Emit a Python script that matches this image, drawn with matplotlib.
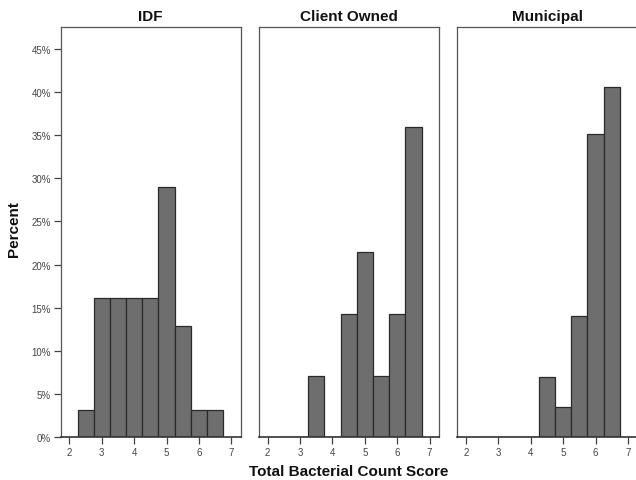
import matplotlib
matplotlib.use("Agg")
import matplotlib.pyplot as plt
from matplotlib.ticker import FuncFormatter

plt.rcParams['font.family'] = ['Liberation Sans', 'DejaVu Sans']

panels = ["IDF", "Client Owned", "Municipal"]
bin_centers = [2.5, 3.0, 3.5, 4.0, 4.5, 5.0, 5.5, 6.0, 6.5]
idf_pct = [3.2, 16.1, 16.1, 16.1, 16.1, 29.0, 12.9, 3.2, 3.2]
client_pct = [0, 0, 7.1, 0, 14.3, 21.4, 7.1, 14.3, 35.9]
municipal_pct = [0, 0, 0, 0, 7.0, 3.5, 14.0, 35.1, 40.5]
series = [idf_pct, client_pct, municipal_pct]
x_ticks = [2, 3, 4, 5, 6, 7]
y_ticks = [0, 5, 10, 15, 20, 25, 30, 35, 40, 45]

W, H = 636, 481
fig = plt.figure(figsize=(W / 100, H / 100), dpi=100)

lefts = [60.7, 259.0, 457.3]
pw = 180.0
top_px, bot_px = 28.0, 438.3

frame_col = '#555555'
for i, (name, vals) in enumerate(zip(panels, series)):
    ax = fig.add_axes([lefts[i] / W, (H - bot_px) / H, pw / W, (bot_px - top_px) / H])
    ax.bar(bin_centers, vals, width=0.5, color='#6e6e6e', edgecolor='#2a2a2a', linewidth=0.9)
    ax.set_xlim(1.73, 7.29)
    ax.set_ylim(0, 47.5)
    ax.set_xticks(x_ticks)
    ax.set_xticklabels([str(t) for t in x_ticks])
    ax.tick_params(axis='x', direction='out', length=5, width=0.9, colors='#444444',
                   labelsize=7, pad=2)
    for s in ax.spines.values():
        s.set_color(frame_col)
        s.set_linewidth(0.9)
    ax.spines['bottom'].set_color('#333333')
    ax.spines['bottom'].set_linewidth(1.2)
    if i == 0:
        ax.set_yticks(y_ticks)
        ax.yaxis.set_major_formatter(FuncFormatter(lambda v, p: f"{int(round(v))}%"))
        ax.tick_params(axis='y', direction='out', length=5, width=0.9, colors='#444444',
                       labelsize=7, pad=2)
    else:
        ax.set_yticks([])
    ax.set_title(name, fontsize=11, fontweight='bold', pad=5, color='#111111')

fig.text(14 / W, 1 - 229 / H, "Percent", rotation=90, ha='center', va='center',
         fontsize=11, fontweight='bold', color='#111111')
fig.text(349 / W, 1 - 472 / H, "Total Bacterial Count Score", ha='center', va='center',
         fontsize=11, fontweight='bold', color='#111111')

fig.savefig("out.png", dpi=100)
